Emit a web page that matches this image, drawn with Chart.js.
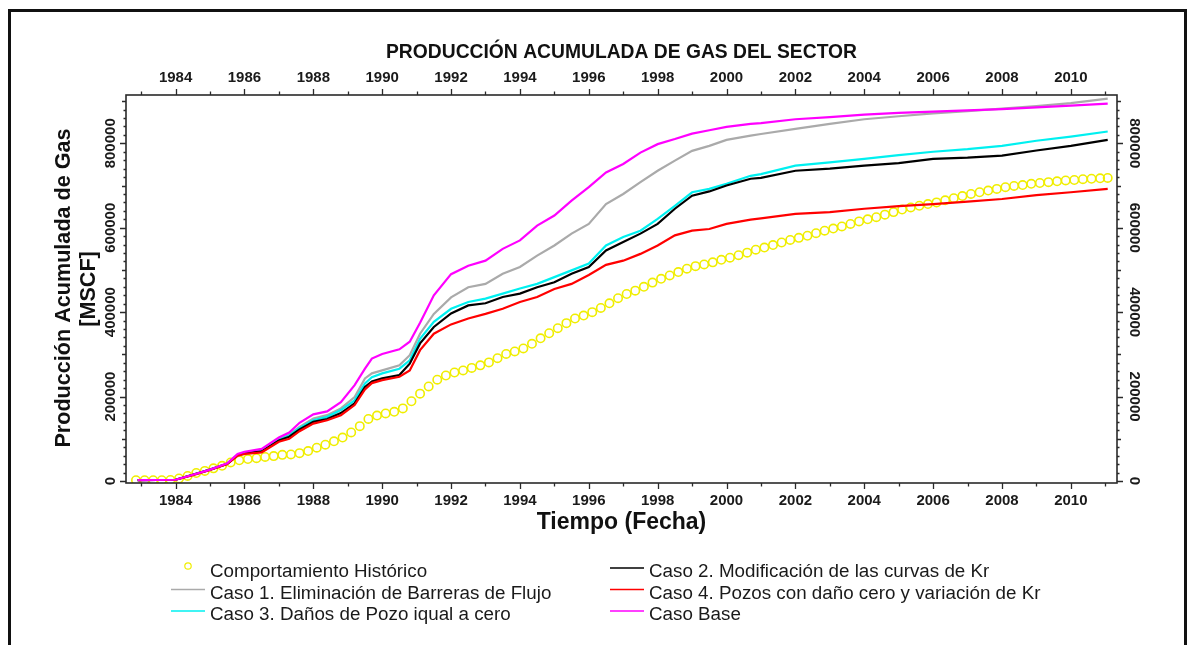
<!DOCTYPE html>
<html lang="es">
<head>
<meta charset="utf-8">
<title>Producción acumulada de gas del sector</title>
<script src="https://cdn.jsdelivr.net/npm/chart.js@4.4.1/dist/chart.umd.min.js"></script>
<style>
  html, body { margin: 0; padding: 0; background: #fff; }
  body { width: 1187px; height: 645px; overflow: hidden; position: relative; }
  #wrap { position: absolute; left: 0; top: 0; width: 1187px; height: 645px; }
  #frame {
    position: absolute; left: 8px; top: 9px; width: 1179px; height: 700px;
    box-sizing: border-box; border: 3px solid #111; pointer-events: none;
  }
</style>
</head>
<body>
<div id="wrap"><canvas id="chart" width="1187" height="645"></canvas></div>
<div id="frame"></div>
<script>
// simulated cases share one time axis (decimal years)
const simYears = [1982.9, 1984.0, 1984.5, 1985.0, 1985.5, 1985.8, 1986.0, 1986.5, 1987.0, 1987.3,
  1987.6, 1988.0, 1988.4, 1988.8, 1989.2, 1989.5, 1989.7, 1990.0, 1990.5, 1990.8,
  1991.1, 1991.5, 1992.0, 1992.5, 1993.0, 1993.5, 1994.0, 1994.5, 1995.0, 1995.5,
  1996.0, 1996.5, 1997.0, 1997.5, 1998.0, 1998.5, 1999.0, 1999.5, 2000.0, 2000.7,
  2001, 2002, 2003, 2004, 2005, 2006, 2007, 2008, 2009, 2010, 2011.07];

const casoBase = [2000, 3000, 15000, 27000, 42000, 64000, 69000, 76000, 103000, 115000,
  138000, 158000, 165000, 187000, 227000, 266000, 290000, 301000, 312000, 330000,
  375000, 440000, 490000, 510000, 522000, 550000, 570000, 605000, 629000, 664000,
  696000, 731000, 751000, 778000, 798000, 810000, 823000, 831000, 839000, 846000,
  848000, 857000, 862000, 868000, 872000, 875000, 878000, 881000, 885000, 889000, 894000];

const caso1 = [2000, 3000, 15000, 27000, 41000, 60000, 65000, 70000, 98000, 110000,
  128000, 148000, 156000, 172000, 199000, 243000, 255000, 262000, 274000, 298000,
  349000, 396000, 435000, 459000, 467000, 491000, 507000, 534000, 558000, 586000,
  609000, 656000, 680000, 708000, 735000, 759000, 782000, 794000, 808000, 818000,
  822000, 834000, 846000, 857000, 864000, 871000, 876000, 882000, 888000, 895000, 906000];

const caso2 = [2000, 3000, 15000, 27000, 41000, 61000, 66000, 70000, 96000, 105000,
  122000, 140000, 147000, 161000, 184000, 223000, 236000, 243000, 251000, 278000,
  326000, 365000, 397000, 416000, 421000, 436000, 444000, 459000, 471000, 491000,
  507000, 546000, 566000, 586000, 609000, 645000, 676000, 686000, 700000, 716000,
  718000, 735000, 740000, 747000, 753000, 763000, 766000, 771000, 783000, 794000, 808000];

const caso3 = [2000, 3000, 15000, 27000, 41000, 62000, 67000, 72000, 98000, 108000,
  126000, 144000, 152000, 168000, 191000, 231000, 246000, 255000, 266000, 286000,
  337000, 377000, 408000, 424000, 432000, 444000, 456000, 467000, 483000, 499000,
  515000, 558000, 578000, 593000, 621000, 652000, 684000, 692000, 704000, 723000,
  727000, 747000, 755000, 763000, 772000, 780000, 786000, 794000, 806000, 816000, 828000];

const caso4 = [2000, 3000, 14000, 26000, 40000, 60000, 64000, 68000, 93000, 100000,
  118000, 136000, 144000, 156000, 180000, 217000, 232000, 239000, 247000, 262000,
  310000, 349000, 371000, 385000, 396000, 408000, 424000, 436000, 455000, 467000,
  488000, 512000, 522000, 538000, 558000, 582000, 593000, 597000, 609000, 619000,
  622000, 633000, 637000, 645000, 651000, 656000, 662000, 668000, 677000, 684000, 692000];

// historical field data, quarterly readings
const histYears = [1982.85, 1983.10, 1983.35, 1983.60, 1983.85, 1984.10, 1984.35, 1984.60, 1984.85,
  1985.10, 1985.35, 1985.60, 1985.85, 1986.10, 1986.35, 1986.60, 1986.85,
  1987.10, 1987.35, 1987.60, 1987.85, 1988.10, 1988.35, 1988.60, 1988.85,
  1989.10, 1989.35, 1989.60, 1989.85, 1990.10, 1990.35, 1990.60, 1990.85,
  1991.10, 1991.35, 1991.60, 1991.85, 1992.10, 1992.35, 1992.60, 1992.85,
  1993.10, 1993.35, 1993.60, 1993.85, 1994.10, 1994.35, 1994.60, 1994.85,
  1995.10, 1995.35, 1995.60, 1995.85, 1996.10, 1996.35, 1996.60, 1996.85,
  1997.10, 1997.35, 1997.60, 1997.85, 1998.10, 1998.35, 1998.60, 1998.85,
  1999.10, 1999.35, 1999.60, 1999.85, 2000.10, 2000.35, 2000.60, 2000.85,
  2001.10, 2001.35, 2001.60, 2001.85, 2002.10, 2002.35, 2002.60, 2002.85,
  2003.10, 2003.35, 2003.60, 2003.85, 2004.10, 2004.35, 2004.60, 2004.85,
  2005.10, 2005.35, 2005.60, 2005.85, 2006.10, 2006.35, 2006.60, 2006.85,
  2007.10, 2007.35, 2007.60, 2007.85, 2008.10, 2008.35, 2008.60, 2008.85,
  2009.10, 2009.35, 2009.60, 2009.85, 2010.10, 2010.35, 2010.60, 2010.85, 2011.07];

const histValues = [2000, 2000, 2000, 2000, 2500, 6000, 12000, 19000, 24000,
  30000, 36000, 44000, 49000, 52000, 54000, 57000, 59000,
  62000, 63000, 66000, 71000, 79000, 86000, 94000, 103000,
  115000, 130000, 147000, 155000, 160000, 164000, 172000, 189000,
  207000, 224000, 240000, 250000, 257000, 262000, 268000, 274000,
  281000, 291000, 301000, 307000, 314000, 325000, 338000, 350000,
  362000, 374000, 385000, 392000, 400000, 410000, 421000, 433000,
  443000, 451000, 460000, 470000, 479000, 487000, 495000, 503000,
  509000, 513000, 518000, 524000, 529000, 535000, 541000, 548000,
  553000, 559000, 565000, 571000, 576000, 581000, 587000, 593000,
  598000, 603000, 609000, 615000, 620000, 625000, 631000, 637000,
  643000, 648000, 652000, 656000, 660000, 665000, 670000, 675000,
  680000, 684000, 688000, 692000, 696000, 699000, 701000, 704000,
  706000, 708000, 710000, 712000, 713000, 715000, 716000, 717000, 718000];

const yearTicks = [1983, 1984, 1985, 1986, 1987, 1988, 1989, 1990, 1991, 1992, 1993, 1994, 1995,
  1996, 1997, 1998, 1999, 2000, 2001, 2002, 2003, 2004, 2005, 2006, 2007, 2008, 2009, 2010, 2011];
const yearLabels = [1984, 1986, 1988, 1990, 1992, 1994, 1996, 1998, 2000, 2002, 2004, 2006, 2008, 2010];
const gasLabels = [0, 200000, 400000, 600000, 800000];

const legendCols = [
  ["Comportamiento Histórico", "Caso 1. Eliminación de Barreras de Flujo", "Caso 3. Daños de Pozo iqual a cero"],
  ["Caso 2. Modificación de las curvas de Kr", "Caso 4. Pozos con daño cero y variación de Kr", "Caso Base"]
];

const FONT = "'Liberation Sans', Arial, sans-serif";

function pairs(xs, ys) {
  return xs.map((x, i) => ({ x: x, y: ys[i] }));
}

function lineSet(label, data, color, order) {
  return {
    label: label,
    data: pairs(simYears, data),
    showLine: true,
    borderColor: color,
    backgroundColor: color,
    borderWidth: 2.2,
    pointRadius: 0,
    tension: 0,
    order: order
  };
}

// axes box, ticks, titles and the two-column legend
const decorations = {
  id: "decorations",
  afterDatasetsDraw(chart) {
    const ctx = chart.ctx;
    const a = chart.chartArea;
    const xs = chart.scales.x;
    const ys = chart.scales.y;
    ctx.save();

    ctx.strokeStyle = "#2a2a2a";
    ctx.lineWidth = 1.6;
    ctx.strokeRect(a.left, a.top, a.right - a.left, a.bottom - a.top);

    // year ticks on bottom and top
    ctx.lineWidth = 1.3;
    ctx.beginPath();
    yearTicks.forEach(yr => {
      const px = Math.round(xs.getPixelForValue(yr)) + 0.5;
      const len = yr % 2 === 0 ? 6 : 3.5;
      ctx.moveTo(px, a.bottom); ctx.lineTo(px, a.bottom + len);
      ctx.moveTo(px, a.top); ctx.lineTo(px, a.top - len);
    });
    // gas ticks every 20000 on left and right
    for (let v = 0; v <= 900000; v += 20000) {
      const py = Math.round(ys.getPixelForValue(v)) + 0.5;
      let len = 2.5;
      if (v % 200000 === 0) len = 6;
      else if (v % 100000 === 0) len = 4;
      ctx.moveTo(a.left, py); ctx.lineTo(a.left - len, py);
      ctx.moveTo(a.right, py); ctx.lineTo(a.right + len, py);
    }
    ctx.stroke();

    ctx.fillStyle = "#1a1a1a";
    ctx.font = "bold 15px " + FONT;
    ctx.textAlign = "center";
    ctx.textBaseline = "middle";
    yearLabels.forEach(yr => {
      const px = xs.getPixelForValue(yr);
      ctx.fillText(String(yr), px, 501);
      ctx.fillText(String(yr), px, 78);
    });
    gasLabels.forEach(v => {
      const py = ys.getPixelForValue(v);
      ctx.save();
      ctx.translate(110.5, py);
      ctx.rotate(-Math.PI / 2);
      ctx.fillText(String(v), 0, 0);
      ctx.restore();
      ctx.save();
      ctx.translate(1134, py);
      ctx.rotate(Math.PI / 2);
      ctx.fillText(String(v), 0, 0);
      ctx.restore();
    });

    const cx = (a.left + a.right) / 2;
    ctx.fillStyle = "#111";
    ctx.font = "bold 19.3px " + FONT;
    ctx.fillText("PRODUCCIÓN ACUMULADA DE GAS DEL SECTOR", cx, 53);
    ctx.font = "bold 23px " + FONT;
    ctx.fillText("Tiempo (Fecha)", cx, 523);

    ctx.font = "bold 21.6px " + FONT;
    ctx.save();
    ctx.translate(64, 288);
    ctx.rotate(-Math.PI / 2);
    ctx.fillText("Producción Acumulada de Gas", 0, 0);
    ctx.restore();
    ctx.save();
    ctx.translate(89, 289);
    ctx.rotate(-Math.PI / 2);
    ctx.fillText("[MSCF]", 0, 0);
    ctx.restore();

    // legend
    const colX = [[171, 205, 210], [610, 644, 649]];
    const baselines = [577, 598.5, 620];
    ctx.font = "18.8px " + FONT;
    ctx.textAlign = "left";
    ctx.textBaseline = "alphabetic";
    legendCols.forEach((col, c) => {
      col.forEach((label, r) => {
        const ds = chart.data.datasets.find(d => d.label === label);
        const yb = baselines[r];
        const [x0, x1, tx] = colX[c];
        if (ds.showLine) {
          ctx.strokeStyle = ds.borderColor;
          ctx.lineWidth = 1.6;
          ctx.beginPath();
          ctx.moveTo(x0, yb - 9);
          ctx.lineTo(x1, yb - 9);
          ctx.stroke();
        } else {
          ctx.strokeStyle = ds.borderColor;
          ctx.lineWidth = 1.2;
          ctx.beginPath();
          ctx.arc((x0 + x1) / 2, yb - 11, 3.2, 0, Math.PI * 2);
          ctx.stroke();
        }
        ctx.fillStyle = "#1a1a1a";
        ctx.fillText(label, tx, yb);
      });
    });

    ctx.restore();
  }
};

new Chart(document.getElementById("chart"), {
  type: "scatter",
  data: {
    datasets: [
      {
        label: "Comportamiento Histórico",
        data: pairs(histYears, histValues),
        showLine: false,
        pointStyle: "circle",
        pointRadius: 4.2,
        pointBorderWidth: 1.6,
        borderColor: "#f0ee00",
        backgroundColor: "rgba(255,255,255,0)",
        order: 6
      },
      lineSet("Caso 1. Eliminación de Barreras de Flujo", caso1, "#aaaaaa", 5),
      lineSet("Caso 3. Daños de Pozo iqual a cero", caso3, "#00f0f0", 4),
      lineSet("Caso 2. Modificación de las curvas de Kr", caso2, "#000000", 3),
      lineSet("Caso 4. Pozos con daño cero y variación de Kr", caso4, "#ff0000", 2),
      lineSet("Caso Base", casoBase, "#ff00ff", 1)
    ]
  },
  options: {
    responsive: false,
    animation: false,
    layout: { padding: { left: 126, top: 95, right: 70, bottom: 162 } },
    plugins: {
      legend: { display: false },
      tooltip: { enabled: false },
      title: { display: false }
    },
    scales: {
      x: { type: "linear", min: 1982.56, max: 2011.34, display: false },
      y: { type: "linear", min: -4700, max: 914400, display: false }
    }
  },
  plugins: [decorations]
});
</script>
</body>
</html>
